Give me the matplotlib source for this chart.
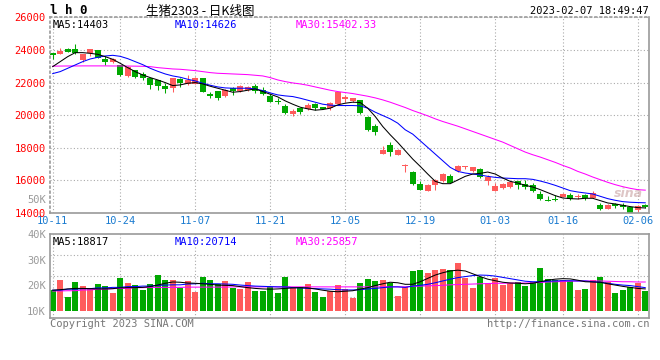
import numpy as np
import matplotlib
matplotlib.use("Agg")
import matplotlib.pyplot as plt

# K线数据
opens = [23796, 23776, 24061, 24061, 23388, 23796, 24000, 23449, 23286, 23082,
         22409, 22776, 22552, 22266, 22144, 21817, 21654, 22226, 21900, 21919,
         22266, 21328, 21491, 21185, 21695, 21491, 21552, 21797, 21532, 21185,
         20880, 20593, 20063, 20430, 20369, 20695, 20512, 20430, 20716, 21000,
         20880, 20940, 19920, 19349, 17615, 18186, 17554, 16860, 16493, 15799,
         15330, 15718, 15942, 16268, 16554, 16799, 16595, 16717, 15942, 15330,
         15534, 15575, 15942, 15799, 15697, 15187, 14820, 14861, 15004, 15126,
         15004, 15126, 14922, 14514, 14249, 14555, 14494, 14351, 14188, 14494]
highs = [23800, 24122, 24100, 24347, 23760, 24080, 24020, 23653, 23531, 23100,
         23000, 22800, 22633, 22280, 22160, 21960, 22310, 22307, 22470, 22320,
         22280, 21450, 21500, 21613, 21756, 21840, 21780, 21899, 21756, 21307,
         21042, 20715, 20369, 20430, 20736, 20736, 20530, 20797, 21410, 21226,
         21083, 20960, 19960, 19471, 18125, 18329, 17900, 16999, 16550, 15983,
         15750, 16105, 16472, 16391, 16962, 16901, 16840, 16740, 16350, 15840,
         15840, 15942, 15983, 16044, 15840, 15330, 15024, 15126, 15248, 15228,
         15187, 15187, 15371, 14596, 14530, 14616, 14596, 14360, 14494, 14555]
lows = [23430, 23735, 23880, 23735, 23286, 23653, 23500, 23082, 23184, 22409,
        22348, 22300, 22164, 21613, 21552, 21348, 21450, 21756, 21838, 21900,
        21450, 21042, 20940, 21144, 21246, 21450, 21491, 21389, 21246, 20797,
        20676, 20063, 19981, 20083, 20328, 20328, 20350, 20328, 20676, 20797,
        20797, 20100, 19043, 18798, 17600, 17472, 17530, 16509, 15738, 15391,
        15320, 15432, 15881, 15820, 16540, 16717, 16513, 16146, 15738, 15330,
        15493, 15534, 15493, 15493, 15289, 14779, 14718, 14718, 14963, 14820,
        14861, 14820, 14900, 14208, 14230, 14290, 14249, 14010, 14045, 14310]
closes = [23694, 23959, 23898, 23796, 23735, 24061, 23531, 23286, 23449, 22470,
          22980, 22348, 22307, 21858, 21817, 21613, 22307, 21960, 22164, 22307,
          21450, 21185, 21042, 21552, 21491, 21797, 21756, 21491, 21287, 20797,
          20797, 20165, 20267, 20185, 20634, 20471, 20369, 20736, 21410, 21100,
          21042, 20124, 19104, 18941, 17880, 17737, 17880, 16920, 15799, 15432,
          15738, 16024, 16411, 15860, 16901, 16880, 16799, 16207, 16207, 15636,
          15779, 15881, 15738, 15595, 15330, 14861, 14718, 14800, 15167, 14861,
          15065, 14922, 15228, 14249, 14514, 14412, 14351, 14004, 14412, 14351]

ma5 = [22980, 23286, 23592, 23837, 23837, 23796, 23735, 23592, 23429, 23184,
       22919, 22674, 22470, 22307, 22164, 22001, 21817, 21858, 21960, 22001,
       21919, 21776, 21654, 21532, 21409, 21450, 21532, 21613, 21450, 21287,
       21124, 20879, 20675, 20491, 20389, 20308, 20348, 20430, 20634, 20736,
       20797, 20777, 20430, 19920, 19308, 18798, 18329, 17819, 17309, 16860,
       16391, 15942, 15799, 15799, 16024, 16248, 16391, 16432, 16513, 16391,
       16146, 15942, 15840, 15697, 15595, 15432, 15248, 15065, 14922, 14881,
       14861, 14902, 14902, 14759, 14616, 14555, 14473, 14392, 14330, 14310]
ma10 = [22552, 22674, 22878, 23082, 23286, 23449, 23551, 23633, 23674, 23612,
        23470, 23286, 23102, 22878, 22694, 22531, 22409, 22327, 22205, 22103,
        21960, 21838, 21735, 21674, 21654, 21654, 21654, 21613, 21511, 21368,
        21246, 21185, 21144, 21042, 20920, 20797, 20675, 20614, 20593, 20593,
        20593, 20573, 20430, 20185, 19981, 19777, 19512, 19104, 18839, 18431,
        18023, 17615, 17207, 16799, 16554, 16452, 16391, 16330, 16248, 16187,
        16146, 16126, 16105, 16105, 16064, 15962, 15840, 15697, 15534, 15371,
        15289, 15228, 15167, 15024, 14881, 14779, 14698, 14660, 14640, 14626]
ma30 = [23010, 23015, 23020, 23020, 23025, 23025, 23025, 23025, 23020, 23020,
        23015, 23010, 23000, 22980, 22919, 22878, 22837, 22817, 22776, 22735,
        22674, 22613, 22572, 22552, 22531, 22511, 22490, 22450, 22409, 22307,
        22164, 22062, 21980, 21919, 21838, 21735, 21634, 21532, 21450, 21389,
        21328, 21246, 21164, 21062, 20940, 20797, 20634, 20471, 20287, 20124,
        19961, 19777, 19614, 19471, 19328, 19165, 19002, 18839, 18676, 18512,
        18349, 18145, 17941, 17737, 17574, 17431, 17268, 17105, 16921, 16758,
        16554, 16391, 16207, 16044, 15881, 15738, 15615, 15513, 15432, 15402]

# 成交量 (K)
volume = [18.2, 22.1, 15.6, 21.3, 19.7, 18.5, 20.5, 19.7, 17.0, 22.9,
          20.9, 20.1, 18.3, 20.5, 24.0, 22.1, 22.1, 19.1, 21.7, 17.5,
          23.2, 22.1, 20.6, 21.7, 19.1, 18.6, 21.4, 17.8, 17.8, 19.5,
          17.1, 23.2, 18.8, 19.5, 20.6, 17.5, 15.6, 17.8, 20.1, 18.6,
          15.2, 21.0, 22.5, 21.8, 22.1, 21.0, 16.0, 19.5, 25.6, 26.0,
          24.9, 26.0, 26.4, 26.0, 28.8, 23.0, 19.1, 23.4, 21.0, 22.9,
          20.1, 21.0, 21.3, 19.9, 21.4, 26.6, 22.5, 22.1, 22.1, 21.7,
          18.2, 18.6, 22.1, 23.2, 21.3, 17.1, 18.2, 19.5, 21.0, 17.9]
vol_ma5 = [18.1, 18.3, 18.6, 18.8, 18.8, 18.7, 18.6, 18.6, 18.7, 19.0,
           19.1, 19.1, 19.2, 19.5, 20.1, 20.8, 21.3, 21.2, 20.9, 20.8,
           20.6, 20.4, 20.1, 20.0, 19.9, 19.5, 19.1, 18.8, 18.6, 18.5,
           18.6, 18.8, 19.0, 19.1, 19.0, 18.6, 18.1, 17.7, 17.5, 17.7,
           17.9, 18.5, 19.1, 19.9, 20.6, 21.2, 21.0, 20.4, 20.4, 21.4,
           22.7, 24.0, 24.9, 25.6, 25.9, 25.6, 24.5, 23.4, 22.4, 21.8,
           21.2, 20.9, 20.8, 20.6, 20.8, 21.4, 22.0, 22.4, 22.6, 22.5,
           22.0, 21.4, 21.3, 21.2, 20.6, 20.1, 19.6, 19.2, 18.8, 18.6]
vol_ma10 = [18.1, 18.1, 18.5, 18.5, 18.7, 18.7, 19.0, 19.0, 19.2, 19.2,
            19.5, 19.5, 19.7, 19.7, 20.0, 20.1, 20.2, 20.2, 20.5, 20.6,
            20.8, 20.6, 20.6, 20.5, 20.4, 20.1, 19.9, 19.7, 19.6, 19.5,
            19.4, 19.4, 19.1, 19.0, 18.8, 18.7, 18.6, 18.5, 18.3, 18.2,
            18.2, 18.3, 18.6, 18.8, 19.1, 19.4, 19.4, 19.2, 19.7, 20.0,
            20.4, 21.0, 21.7, 22.4, 23.0, 23.4, 23.8, 24.0, 23.9, 23.6,
            23.1, 22.6, 22.1, 21.6, 21.4, 21.4, 21.6, 21.7, 21.8, 21.8,
            21.7, 21.7, 21.4, 21.2, 20.8, 20.4, 20.1, 19.9, 19.5, 19.1]
vol_ma30 = [17.8, 17.8, 17.9, 17.9, 18.2, 18.2, 18.5, 18.5, 18.7, 18.8,
            18.8, 19.1, 19.1, 19.2, 19.2, 19.2, 19.2, 19.2, 19.3, 19.3,
            19.3, 19.3, 19.3, 19.3, 19.4, 19.4, 19.4, 19.4, 19.4, 19.4,
            19.4, 19.4, 19.4, 19.4, 19.4, 19.4, 19.4, 19.4, 19.4, 19.4,
            19.4, 19.4, 19.4, 19.4, 19.4, 19.4, 19.4, 19.4, 19.6, 19.7,
            19.8, 19.9, 20.0, 20.2, 20.3, 20.4, 20.5, 20.6, 20.7, 20.8,
            20.8, 20.9, 20.9, 20.9, 21.0, 21.1, 21.3, 21.4, 21.5, 21.6,
            21.7, 21.7, 21.7, 21.7, 21.6, 21.5, 21.4, 21.4, 21.3, 21.3]

date_idx = [0, 9, 19, 29, 39, 49, 59, 68, 78]
date_labels = ["10-11", "10-24", "11-07", "11-21", "12-05", "12-19", "01-03", "01-16", "02-06"]
price_ticks = [14000, 16000, 18000, 20000, 22000, 24000, 26000]
vol_ticks = [10, 20, 30, 40]
vol_tick_labels = ["10K", "20K", "30K", "40K"]

RED = "#ff5b5b"
GREEN = "#00a800"
GRAY = "#9a9a9a"
MONO = "DejaVu Sans Mono"
LW = 0.75

o = np.array(opens)
c = np.array(closes)
x = np.arange(len(o))
up = c >= o
colors = np.where(up, RED, GREEN)

fig = plt.figure(figsize=(6.6, 3.6), dpi=100)
ax1 = fig.add_axes([50 / 660, (360 - 213) / 360, 599 / 660, (213 - 17.4) / 360])
ax2 = fig.add_axes([50 / 660, (360 - 318) / 360, 599 / 660, (318 - 234) / 360])

# 价格图
ax1.vlines(x, lows, highs, colors=colors, linewidth=LW)
body = np.maximum(np.abs(c - o), 60)
ax1.bar(x, body, bottom=np.minimum(o, c), width=0.8, color=colors, linewidth=0)
ax1.plot(x, ma30, color="#ff00ff", linewidth=LW)
ax1.plot(x, ma10, color="#0000ff", linewidth=LW)
ax1.plot(x, ma5, color="black", linewidth=LW)
ax1.set_xlim(-0.36, 79.5)
ax1.set_ylim(14000, 26000)
ax1.set_yticks(price_ticks)
ax1.set_xticks(date_idx)
ax1.set_xticklabels(date_labels)
ax1.tick_params(axis="y", length=0, pad=3, labelcolor="red", labelsize=7.5)
ax1.tick_params(axis="x", length=0, pad=2.5, labelcolor="#1a7bd0", labelsize=7.5)
for lab in ax1.get_yticklabels() + ax1.get_xticklabels():
    lab.set_family(MONO)
ax1.grid(True, color="#aaaaaa", linestyle=(0, (1, 2)), linewidth=0.8)
ax1.set_axisbelow(True)

ax1.text(0.005, 0.985, "MA5:14403", transform=ax1.transAxes, color="black",
         family=MONO, fontsize=7.5, va="top")
ax1.text(0.208, 0.985, "MA10:14626", transform=ax1.transAxes, color="#0000ff",
         family=MONO, fontsize=7.5, va="top")
ax1.text(0.41, 0.985, "MA30:15402.33", transform=ax1.transAxes, color="#ff00ff",
         family=MONO, fontsize=7.5, va="top")
ax1.text(-0.006, 0.065, "50K", transform=ax1.transAxes, color=GRAY,
         family=MONO, fontsize=7.5, ha="right", va="center")
ax1.text(0.965, 0.1, "sina", transform=ax1.transAxes, color="#c8a0a0", alpha=0.6,
         fontsize=9, fontweight="bold", style="italic", ha="center", va="center")

# 成交量图
vcol = np.where(up, RED, GREEN)
v = np.array(volume)
ax2.bar(x, v - vol_ticks[0], bottom=vol_ticks[0], width=0.8, color=vcol, linewidth=0)
ax2.plot(x, vol_ma30, color="#ff00ff", linewidth=LW)
ax2.plot(x, vol_ma10, color="#0000ff", linewidth=LW)
ax2.plot(x, vol_ma5, color="black", linewidth=LW)
ax2.set_xlim(-0.36, 79.5)
ax2.set_ylim(7.27, 40)
ax2.set_yticks(vol_ticks)
ax2.set_yticklabels(vol_tick_labels)
ax2.set_xticks(date_idx)
ax2.set_xticklabels([])
ax2.tick_params(length=0, pad=3, labelcolor=GRAY, labelsize=7.5)
for lab in ax2.get_yticklabels():
    lab.set_family(MONO)
ax2.grid(True, axis="x", color="#aaaaaa", linestyle=(0, (1, 2)), linewidth=0.8)
for f in [0.25, 0.5, 0.75]:
    ax2.axhline(7.27 + (40 - 7.27) * f, color="#aaaaaa", linestyle=(0, (1, 2)), linewidth=0.8, zorder=0)
ax2.set_axisbelow(True)

ax2.text(0.005, 0.96, "MA5:18817", transform=ax2.transAxes, color="black",
         family=MONO, fontsize=7.5, va="top")
ax2.text(0.208, 0.96, "MA10:20714", transform=ax2.transAxes, color="#0000ff",
         family=MONO, fontsize=7.5, va="top")
ax2.text(0.41, 0.96, "MA30:25857", transform=ax2.transAxes, color="#ff00ff",
         family=MONO, fontsize=7.5, va="top")

for ax in (ax1, ax2):
    for s in ax.spines.values():
        s.set_color(GRAY)
        s.set_linewidth(1.2)
ax1.spines["top"].set_linestyle((0, (1, 2)))
ax1.spines["left"].set_linestyle((0, (1, 2)))

# 标题和底部文字
fig.text(50 / 660, 1 - 11 / 360, "l h 0", family=MONO, fontweight="bold",
         fontsize=9, va="center")
fig.text(200 / 660, 1 - 11 / 360, "生猪2303 - 日K线图",
         family=["Noto Sans CJK SC", "DejaVu Sans"], fontsize=9, ha="center", va="center")
fig.text(649 / 660, 1 - 11 / 360, "2023-02-07 18:49:47", family=MONO,
         fontsize=7.5, ha="right", va="center")
fig.text(50 / 660, 1 - 324 / 360, "Copyright 2023 SINA.COM", family=MONO,
         fontsize=7.5, color="#777777", va="center")
fig.text(649 / 660, 1 - 324 / 360, "http://finance.sina.com.cn", family=MONO,
         fontsize=7.5, color="#777777", ha="right", va="center")

fig.savefig("out.png", dpi=100)
